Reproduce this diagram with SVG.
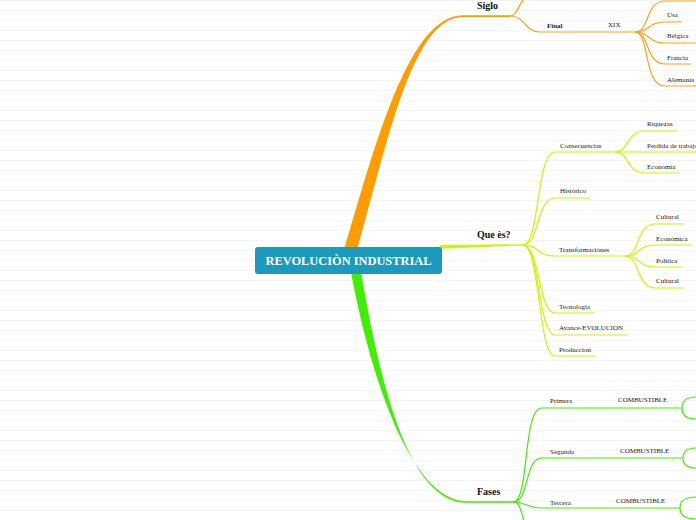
<svg xmlns="http://www.w3.org/2000/svg" width="696" height="520" viewBox="0 0 696 520">
<defs>
<pattern id="bg" x="0" y="0" width="696" height="10" patternUnits="userSpaceOnUse">
<rect x="0" y="0" width="696" height="10" fill="#ffffff"/>
<rect x="0" y="0" width="696" height="1" fill="#f4f4f4"/>
</pattern>
<style>
.t{font-family:"Liberation Serif","Times New Roman",serif;font-size:7px;fill:#222}
.b{font-family:"Liberation Serif","Times New Roman",serif;font-size:10px;font-weight:bold;fill:#111}
.o{fill:none;stroke:#ffa114;stroke-width:1.2}
.y{fill:none;stroke:#ccf500;stroke-width:1.2}
.g{fill:none;stroke:#3ef000;stroke-width:1.2}
</style>
</defs>
<rect width="696" height="520" fill="url(#bg)"/>
<g id="connectors">
<path d="M344,250 C374,150 408,15.3 463,15.3 L510,15.3 L510,17 L463,17 C411,17 386,150 357,250 Z" fill="#ff9c00"/>
<path class="o" d="M510,16 C518,16 518,2 530,-8"/>
<path class="o" d="M510,16 C526,16 524,32 540,32 H635"/>
<path class="o" d="M635,32 C650,32 645,1 665,1 H696"/>
<path class="o" d="M635,32 C650,32 648,22 665,22 H682"/>
<path class="o" d="M635,32 C650,32 648,43 665,43 H696"/>
<path class="o" d="M635,32 C650,32 645,64 665,64 H691"/>
<path class="o" d="M635,32 C650,32 643,86 665,86 H696"/>
<path d="M440,245 C470,245 500,244.3 523,244.3 L523,245.7 C500,245.7 470,248 440,248.5 Z" fill="#ccf500"/>
<path class="y" d="M523,245 C540,245 536,152 555,152 H696"/>
<path class="y" d="M523,245 C540,245 536,198 555,198 H590"/>
<path class="y" d="M523,245 C540,245 536,256 555,256 H625"/>
<path class="y" d="M523,245 C540,245 538,313 555,313 H595"/>
<path class="y" d="M523,245 C540,245 538,335 555,335 H628"/>
<path class="y" d="M523,245 C540,245 538,356 555,356 H596"/>
<path class="y" d="M615,152 C630,152 626,131 645,131 H677"/>
<path class="y" d="M615,152 C630,152 626,173 645,173 H680"/>
<path class="y" d="M625,256 C640,256 636,224 655,224 H684"/>
<path class="y" d="M625,256 C640,256 638,245 655,245 H692"/>
<path class="y" d="M625,256 C640,256 638,267 655,267 H682"/>
<path class="y" d="M625,256 C640,256 636,288 655,288 H684"/>
<path d="M351,272 C371,380 412,501.3 467,501.3 L513,501.3 L513,502.8 L467,502.8 C408,502.8 380,382 361,272 Z" fill="#3ef000"/>
<path class="g" d="M513,502 C530,502 522,408 542,408 H682"/>
<path class="g" d="M513,502 C530,502 524,458 542,458 H683"/>
<path class="g" d="M513,502 C528,502 526,508 542,508 H680"/>
<path class="g" d="M513,502 C522,502 520,515 528,530"/>
<path class="g" d="M682,408 C682,400 688,397 696,397"/>
<path class="g" d="M682,408 C682,416 688,419 696,419"/>
<path class="g" d="M683,458 C683,451 688,448 696,448"/>
<path class="g" d="M683,458 C683,465 688,468 696,468"/>
<path class="g" d="M680,508 C680,500 686,497 696,497"/>
<path class="g" d="M680,508 C680,516 686,519 696,519"/>
</g>
<g id="central"><rect x="255" y="247" width="187" height="27" rx="3" fill="#1a9bbd"/><text x="348.5" y="265" text-anchor="middle" style="font-family:'Liberation Serif','Times New Roman',serif;font-size:12.4px;font-weight:bold;fill:#ffffff">REVOLUCIÒN INDUSTRIAL</text></g>
<g id="siglo"><text class="b" x="477" y="9">Siglo</text></g>
<g id="final"><text class="t" x="547" y="28" font-weight="bold">Final</text></g>
<g id="xix"><text class="t" x="608" y="27">XIX</text></g>
<g id="usa"><text class="t" x="667" y="17">Usa</text></g>
<g id="belgica"><text class="t" x="667" y="38">Bélgica</text></g>
<g id="francia"><text class="t" x="667" y="60">Francia</text></g>
<g id="alemania"><text class="t" x="667" y="82">Alemania</text></g>
<g id="quees"><text class="b" x="477" y="238">Que ès?</text></g>
<g id="consecuencias"><text class="t" x="560" y="147.5">Consecuencias</text></g>
<g id="riquezas"><text class="t" x="647" y="125.5">Riquezas</text></g>
<g id="perdida"><text class="t" x="647" y="147.5">Perdida de trabajo</text></g>
<g id="economia"><text class="t" x="647" y="168.5">Economía</text></g>
<g id="historico"><text class="t" x="560" y="193">Histórico</text></g>
<g id="transformaciones"><text class="t" x="559" y="251.5">Transformaciònes</text></g>
<g id="cultural1"><text class="t" x="656" y="219">Cultural</text></g>
<g id="economica"><text class="t" x="656" y="240.5">Económica</text></g>
<g id="politica"><text class="t" x="656" y="262.5">Politica</text></g>
<g id="cultural2"><text class="t" x="656" y="283">Cultural</text></g>
<g id="tecnologia"><text class="t" x="559" y="308.5">Tecnologia</text></g>
<g id="avance"><text class="t" x="559" y="330">Avance-EVOLUCION</text></g>
<g id="produccion"><text class="t" x="559" y="351.5">Produccion</text></g>
<g id="fases"><text class="b" x="477" y="495">Fases</text></g>
<g id="primera"><text class="t" x="550" y="403">Primera</text></g>
<g id="comb1"><text class="t" x="618" y="402">COMBUSTIBLE</text></g>
<g id="segunda"><text class="t" x="550" y="453.5">Segunda</text></g>
<g id="comb2"><text class="t" x="620" y="453">COMBUSTIBLE</text></g>
<g id="tercera"><text class="t" x="550" y="504.5">Tercera</text></g>
<g id="comb3"><text class="t" x="616" y="503">COMBUSTIBLE</text></g>
</svg>
